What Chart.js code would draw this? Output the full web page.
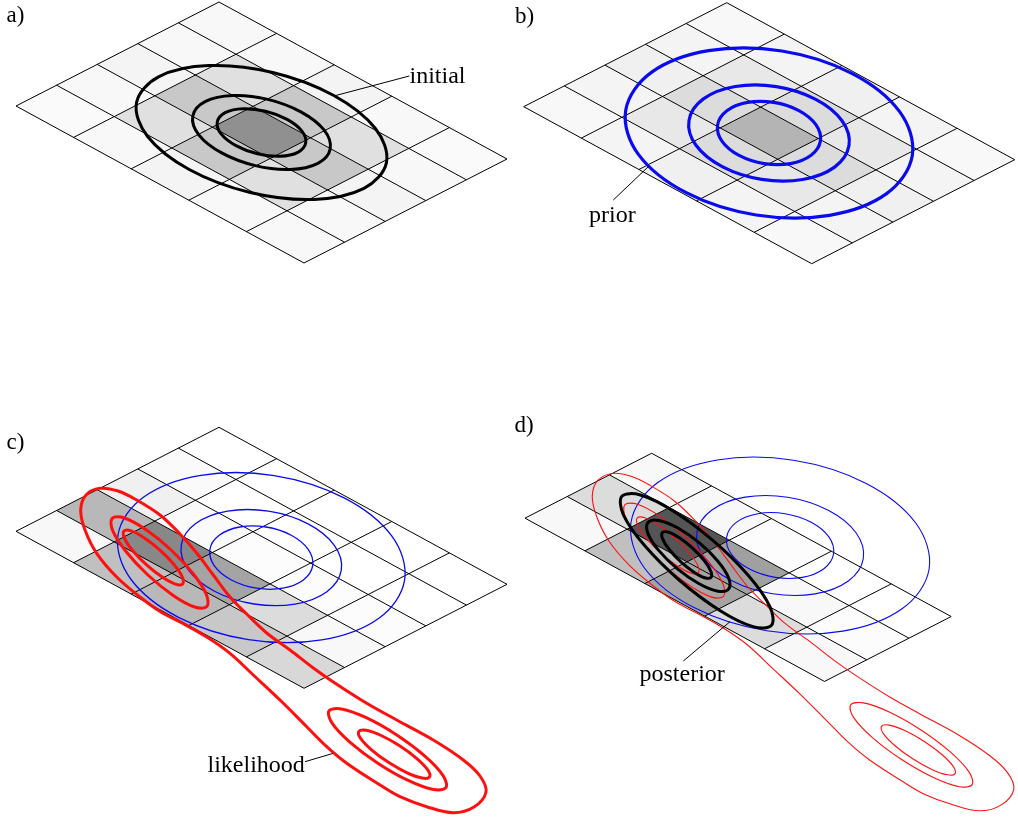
<!DOCTYPE html>
<html>
<head>
<meta charset="utf-8">
<script src="https://cdn.jsdelivr.net/npm/chart.js@4.4.1/dist/chart.umd.min.js"></script>
<style>
  html, body { margin: 0; padding: 0; background: #ffffff; }
  #wrap { width: 1018px; height: 817px; position: relative; }
</style>
</head>
<body>
<div id="wrap"><canvas id="chart"></canvas></div>
<script>
// ---------------- DATA ----------------
// Cell shading (density, 0 = white) per panel; rows = j (strips along the upper-right edge), cols = i
const shadeA = [
  [0.027, 0.027, 0.043, 0.027, 0.020],
  [0.027, 0.122, 0.216, 0.122, 0.027],
  [0.043, 0.216, 0.435, 0.216, 0.043],
  [0.027, 0.122, 0.216, 0.122, 0.027],
  [0.020, 0.027, 0.043, 0.027, 0.027]
];
const shadeB = [
  [0.027, 0.043, 0.059, 0.043, 0.027],
  [0.043, 0.090, 0.137, 0.090, 0.043],
  [0.059, 0.137, 0.294, 0.137, 0.059],
  [0.043, 0.090, 0.137, 0.090, 0.043],
  [0.027, 0.043, 0.059, 0.043, 0.027]
];
const shadeC = [
  [0.000, 0.000, 0.000, 0.000, 0.000],
  [0.020, 0.000, 0.000, 0.000, 0.000],
  [0.059, 0.020, 0.012, 0.012, 0.012],
  [0.278, 0.467, 0.357, 0.137, 0.027],
  [0.027, 0.247, 0.278, 0.216, 0.153]
];
// panel d only shows rows j = 2..4
const shadeD = [
  [0.027, 0.027, 0.012, 0.000, 0.000],
  [0.137, 0.667, 0.373, 0.027, 0.012],
  [0.027, 0.247, 0.357, 0.137, 0.027]
];

// Contours (panel-local coordinates, relative to the grid's top corner)
const initialOuter = [[145.0,186.4],[95.1,197.4],[31.2,190.5],[-29.8,167.5],[-71.4,134.5],[-82.5,100.6],[-60.0,74.6],[-10.1,63.6],[53.8,70.5],[114.8,93.5],[156.4,126.5],[167.5,160.4]];
const initialMiddle = [[98.9,161.3],[71.4,167.4],[36.2,163.6],[2.7,150.9],[-20.2,132.8],[-26.2,114.0],[-13.9,99.7],[13.6,93.6],[48.8,97.4],[82.3,110.1],[105.2,128.2],[111.2,147.0]];
const initialInner = [[78.8,150.3],[61.1,154.2],[38.5,151.7],[16.9,143.6],[2.1,131.9],[-1.7,120.0],[6.2,110.7],[23.9,106.8],[46.5,109.3],[68.1,117.4],[82.9,129.1],[86.7,141.0]];

const priorOuter = [[185.6,152.9],[159.9,190.9],[102.7,212.6],[29.4,212.3],[-40.5,190.0],[-88.3,151.7],[-101.0,107.7],[-75.3,69.7],[-18.1,48.0],[55.2,48.3],[125.1,70.6],[172.9,108.9]];
const priorMiddle = [[122.3,142.9],[107.9,164.4],[76.0,176.8],[35.0,176.7],[-4.0,164.2],[-30.7,142.6],[-37.7,117.7],[-23.3,96.2],[8.6,83.8],[49.6,83.9],[88.6,96.4],[115.3,118.0]];
const priorInner = [[93.7,138.4],[84.4,152.6],[63.8,160.9],[37.5,160.9],[12.4,152.7],[-4.6,138.6],[-9.1,122.2],[0.2,108.0],[20.8,99.7],[47.1,99.7],[72.2,107.9],[89.2,122.0]];

const likOuter = [[-119,61],[-101,63.7],[-82.3,72.7],[-59,87.7],[-39,106.7],[-22.3,125.7],[-5.7,147.7],[11,169.7],[27.7,186.7],[47.7,205.7],[71,222.7],[94.3,240.7],[114.3,254.7],[147.7,276],[177.7,292.7],[214.3,312.7],[244.3,332.7],[261,348.7],[267,364.7],[255,379.7],[234.3,385.4],[207.7,379.4],[181,369.4],[161,357.7],[127.7,336],[107.7,319.4],[87.7,299.4],[61,272.7],[34.3,247.7],[11,226],[-12.3,209.7],[-37,195.7],[-58,184.7],[-79,169.7],[-102.3,149.7],[-122.3,126],[-134,102.7],[-138.3,82.7],[-133,67.7]];
const likPeak1Inner = [[-36.4,156.6],[-43.7,156.8],[-56.8,149.8],[-72.4,137.6],[-86.2,123.4],[-94.5,111.0],[-95.0,103.8],[-87.7,103.6],[-74.6,110.6],[-59.0,122.8],[-45.2,137.0],[-36.9,149.4]];
const likPeak1Middle = [[-12.1,179.3],[-24.3,179.7],[-45.8,168.1],[-71.1,147.7],[-93.2,123.9],[-106.3,103.3],[-106.9,91.1],[-94.7,90.7],[-73.2,102.3],[-47.9,122.7],[-25.8,146.5],[-12.7,167.1]];
const likPeak2Inner = [[210.6,349.6],[203.2,350.8],[188.2,345.6],[169.8,335.3],[152.8,322.8],[141.8,311.4],[139.8,304.2],[147.2,303.0],[162.2,308.2],[180.6,318.5],[197.6,331.0],[208.6,342.4]];
const likPeak2Middle = [[227.0,360.2],[214.5,362.2],[189.7,353.4],[159.2,336.1],[131.1,315.0],[113.1,295.8],[110.0,283.6],[122.5,281.6],[147.3,290.4],[177.8,307.7],[205.9,328.8],[223.9,348.0]];

// Posterior contours (page coordinates of panel d)
const postInner = [[711.0,577.4],[704.6,577.7],[693.6,571.9],[680.6,561.6],[669.2,549.5],[662.6,538.9],[662.4,532.6],[668.8,532.3],[679.8,538.1],[692.8,548.4],[704.2,560.5],[710.8,571.1]];
const postMiddle = [[728.6,589.1],[717.8,591.2],[699.1,583.8],[677.5,568.9],[658.7,550.4],[648.0,533.6],[648.0,522.5],[658.8,520.4],[677.5,527.8],[699.1,542.7],[717.9,561.2],[728.6,578.0]];
const postOuter = [[771.5,625.3],[753.0,626.6],[719.4,610.2],[679.7,580.5],[644.6,545.6],[623.4,514.8],[621.9,496.3],[640.4,495.0],[674.0,511.4],[713.7,541.1],[748.8,576.0],[770.0,606.8]];

// ---------------- LAYOUT ----------------
const GRID_U = [57.6, 31.4];   // one cell step along the upper-right edge
const GRID_V = [-40.6, 20.8];  // one cell step along the upper-left edge
const frames = {               // [originX, originY, scale]
  a: [219, 2, 1],
  b: [726.7, 2.7, 1],
  c: [219, 427.3, 1],
  d: [736.1, 410, 1.04],
  page: [0, 0, 1]
};
const textLabels = [
  { text: 'a)', x: 6.5, y: 22, size: 23 },
  { text: 'b)', x: 515, y: 22.5, size: 23 },
  { text: 'c)', x: 6.5, y: 449, size: 23 },
  { text: 'd)', x: 514.5, y: 432, size: 23 },
  { text: 'initial', x: 409.5, y: 83.3, size: 24 },
  { text: 'prior', x: 589, y: 221.7, size: 24 },
  { text: 'likelihood', x: 207.5, y: 771.7, size: 24 },
  { text: 'posterior', x: 639.5, y: 680.7, size: 24 }
];
const leaders = [
  [[335, 95.7], [409.3, 76]],
  [[648.3, 166.7], [613.3, 200]],
  [[305, 761.7], [333.3, 753.3]],
  [[683.3, 661], [730, 621.7]]
];

// ---------------- BUILD DATASETS ----------------
function toPage(p, f) { return { x: f[0] + f[2] * p[0], y: f[1] + f[2] * p[1] }; }
function gridPt(i, j, f) { return toPage([i * GRID_U[0] + j * GRID_V[0], i * GRID_U[1] + j * GRID_V[1]], f); }
const GAP = { x: null, y: null };
const datasets = [];

function addCells(shade, f, j0) {
  shade.forEach((row, r) => {
    const j = j0 + r;
    row.forEach((val, i) => {
      const g = Math.round(255 * (1 - val));
      datasets.push({
        data: [gridPt(i, j, f), gridPt(i + 1, j, f), gridPt(i + 1, j + 1, f), gridPt(i, j + 1, f)],
        showLine: true, fill: 'shape', backgroundColor: `rgb(${g},${g},${g})`,
        borderColor: 'rgba(0,0,0,0)', borderWidth: 1, pointRadius: 0, tension: 0, order: 6
      });
    });
  });
}
function addGrid(f, j0) {
  const data = [];
  for (let j = j0; j <= 5; j++) { data.push(gridPt(0, j, f), gridPt(5, j, f), GAP); }
  for (let i = 0; i <= 5; i++) { data.push(gridPt(i, j0, f), gridPt(i, 5, f), GAP); }
  datasets.push({ data, showLine: true, spanGaps: false, borderColor: '#000', borderWidth: 1,
    pointRadius: 0, tension: 0, fill: false, order: 5 });
}
function addLoop(pts, f, color, width, order) {
  const n = pts.length;
  const seq = [pts[n - 1], ...pts, pts[0], pts[1]].map(p => toPage(p, f));
  const last = seq.length - 2;
  datasets.push({
    data: seq, showLine: true, borderColor: color, borderWidth: width, tension: 0.36,
    pointRadius: 0, fill: false, order,
    segment: { borderColor: c => (c.p0DataIndex === 0 || c.p0DataIndex === last) ? 'rgba(0,0,0,0)' : undefined }
  });
}

const BLUE = '#0a0aee', RED = '#ff1010', BLACK = '#000000';
// panel a
addCells(shadeA, frames.a, 0); addGrid(frames.a, 0);
[initialOuter, initialMiddle, initialInner].forEach(p => addLoop(p, frames.a, BLACK, 3, 2));
// panel b
addCells(shadeB, frames.b, 0); addGrid(frames.b, 0);
[priorOuter, priorMiddle, priorInner].forEach(p => addLoop(p, frames.b, BLUE, 3.2, 2));
// panel c
addCells(shadeC, frames.c, 0); addGrid(frames.c, 0);
[priorOuter, priorMiddle, priorInner].forEach(p => addLoop(p, frames.c, BLUE, 1.3, 4));
[likOuter, likPeak1Inner, likPeak1Middle, likPeak2Inner, likPeak2Middle].forEach(p => addLoop(p, frames.c, RED, 3, 3));
// panel d
addCells(shadeD, frames.d, 2); addGrid(frames.d, 2);
[priorOuter, priorMiddle, priorInner].forEach(p => addLoop(p, frames.d, BLUE, 1.1, 4));
[likOuter, likPeak1Inner, likPeak1Middle, likPeak2Inner, likPeak2Middle].forEach(p => addLoop(p, frames.d, RED, 1.1, 3));
[postOuter, postMiddle, postInner].forEach(p => addLoop(p, frames.page, BLACK, 3, 2));
// label leader lines
const leaderData = [];
leaders.forEach(l => leaderData.push(toPage(l[0], frames.page), toPage(l[1], frames.page), GAP));
datasets.push({ data: leaderData, showLine: true, spanGaps: false, borderColor: '#000', borderWidth: 1,
  pointRadius: 0, tension: 0, fill: false, order: 1 });

const textPlugin = {
  id: 'panelText',
  afterDatasetsDraw(chart) {
    const { ctx, scales: { x, y } } = chart;
    ctx.save();
    ctx.fillStyle = '#000';
    ctx.textAlign = 'left';
    ctx.textBaseline = 'alphabetic';
    textLabels.forEach(t => {
      ctx.font = `${t.size}px "Liberation Serif", "Times New Roman", serif`;
      ctx.fillText(t.text, x.getPixelForValue(t.x), y.getPixelForValue(t.y));
    });
    ctx.restore();
  }
};

new Chart(document.getElementById('chart'), {
  type: 'scatter',
  data: { datasets },
  options: {
    responsive: true, maintainAspectRatio: false, animation: false, events: [],
    layout: { padding: 0 },
    plugins: { legend: { display: false }, tooltip: { enabled: false }, title: { display: false } },
    scales: {
      x: { type: 'linear', min: 0, max: 1018, display: false },
      y: { type: 'linear', min: 0, max: 817, reverse: true, display: false }
    },
    elements: { point: { radius: 0, hoverRadius: 0 } }
  },
  plugins: [textPlugin]
});
</script>
</body>
</html>
